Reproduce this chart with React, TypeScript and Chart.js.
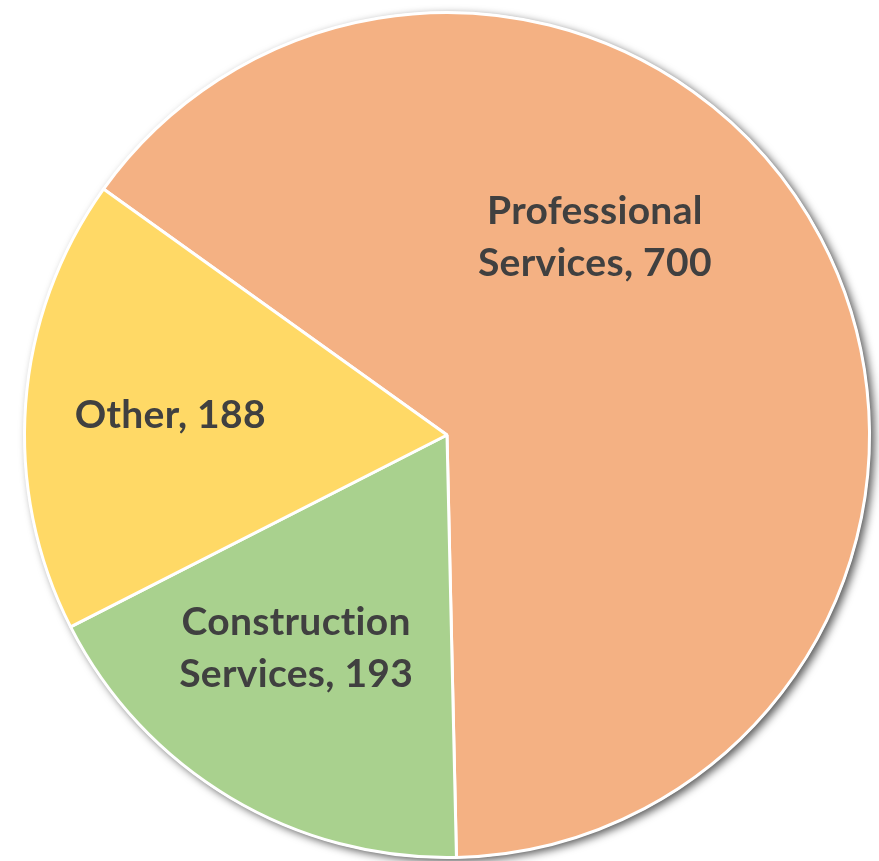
import React, { useEffect, useRef } from "react";
import { Chart, registerables } from "chart.js";

Chart.register(...registerables);

const categories = ["Professional Services", "Construction Services", "Other"];
const values = [700, 193, 188];
const colors = ["#F4B183", "#A9D18E", "#FFD966"];
const labelLines = [
  ["Professional", "Services, 700"],
  ["Construction", "Services, 193"],
  ["Other, 188"],
];

const FONT = "bold 39px Lato";
const LINE_H = 52;
// label anchor as a fraction of the pie radius from the pie centre
const labelAnchors = [
  [0.35, -0.468],
  [-0.357, 0.506],
  [-0.655, -0.047],
];

const shadowPlugin = {
  id: "pieShadow",
  beforeDatasetsDraw(chart: any) {
    const meta = chart.getDatasetMeta(0);
    const arc = meta.data[0];
    if (!arc) return;
    const { x, y, outerRadius } = arc.getProps(["x", "y", "outerRadius"], true);
    const ctx = chart.ctx;
    ctx.save();
    ctx.shadowColor = "rgba(0,0,0,0.65)";
    ctx.shadowBlur = 8;
    ctx.shadowOffsetX = 4;
    ctx.shadowOffsetY = 3;
    ctx.fillStyle = "#ffffff";
    ctx.beginPath();
    ctx.arc(x, y, outerRadius + 1, 0, Math.PI * 2);
    ctx.fill();
    ctx.restore();
  },
};

const labelPlugin = {
  id: "pieLabels",
  afterDatasetsDraw(chart: any) {
    const meta = chart.getDatasetMeta(0);
    const ctx = chart.ctx;
    ctx.save();
    ctx.font = FONT;
    try {
      (ctx as any).letterSpacing = "0.3px";
    } catch (e) {}
    ctx.fillStyle = "#404040";
    ctx.textAlign = "center";
    ctx.textBaseline = "middle";
    meta.data.forEach((arc: any, i: number) => {
      const { x, y, outerRadius } = arc.getProps(["x", "y", "outerRadius"], true);
      const lines = labelLines[i];
      const cx = x + labelAnchors[i][0] * outerRadius;
      const cy = y + labelAnchors[i][1] * outerRadius;
      const startY = cy - ((lines.length - 1) * LINE_H) / 2;
      lines.forEach((t, j) => ctx.fillText(t, cx, startY + j * LINE_H));
    });
    ctx.restore();
  },
};

export default function App() {
  const ref = useRef<HTMLCanvasElement>(null);
  useEffect(() => {
    if (!ref.current) return;
    const chart = new Chart(ref.current, {
      type: "pie",
      data: {
        labels: categories,
        datasets: [
          {
            data: values,
            backgroundColor: colors,
            borderColor: "#ffffff",
            borderWidth: 3,
          },
        ],
      },
      options: {
        animation: false,
        responsive: false,
        rotation: -54.4,
        layout: { padding: { left: 23, right: 8, top: 11, bottom: 2 } },
        plugins: {
          legend: { display: false },
          tooltip: { enabled: false },
        },
      },
      plugins: [shadowPlugin, labelPlugin],
    });
    return () => chart.destroy();
  }, []);
  return (
    <div style={{ position: "fixed", left: 0, top: 0, width: 879, height: 861, background: "#fff" }}>
      <canvas ref={ref} width={879} height={861} style={{ display: "block" }} />
    </div>
  );
}
